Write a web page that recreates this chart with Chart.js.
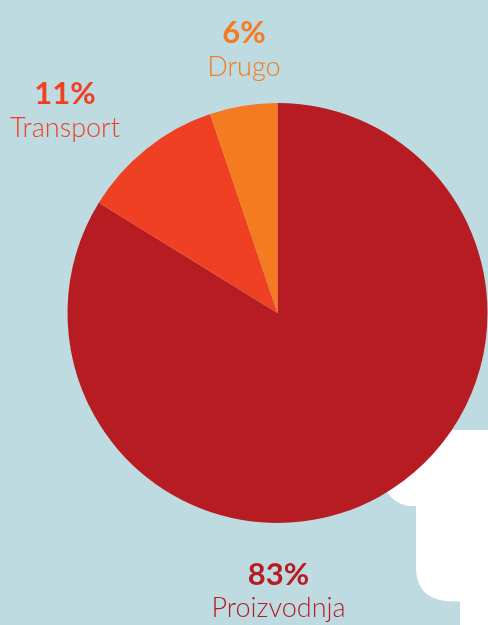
<!DOCTYPE html>
<html>
<head>
<meta charset="utf-8">
<script src="https://cdn.jsdelivr.net/npm/chart.js@4/dist/chart.umd.min.js"></script>
<style>
  html, body { margin: 0; padding: 0; background: #bddbe0; overflow: hidden; }
  #wrap { position: relative; width: 488px; height: 625px; }
</style>
</head>
<body>
<div id="wrap"><canvas id="c" width="488" height="625"></canvas></div>
<script>
// Data
const categories = ['Proizvodnja', 'Transport', 'Drugo'];
const values = [83.8, 11.0, 5.2];
const percentLabels = ['83%', '11%', '6%'];
const colors = ['#b71c22', '#ef4023', '#f47b20'];

const BG = '#bddbe0';

// White decorative panel behind the pie (bottom-right)
const panelPlugin = {
  id: 'panel',
  beforeDraw(chart) {
    const ctx = chart.ctx;
    ctx.save();
    ctx.fillStyle = BG;
    ctx.fillRect(0, 0, chart.width, chart.height);
    ctx.fillStyle = '#ffffff';
    ctx.beginPath();
    ctx.moveTo(340, 430);
    ctx.lineTo(488, 430);
    ctx.lineTo(488, 625);
    ctx.lineTo(460, 625);
    ctx.lineTo(460, 601.5);
    ctx.lineTo(455, 601.5);
    ctx.bezierCurveTo(428, 601.5, 416, 590, 416, 566);
    ctx.lineTo(416, 506);
    ctx.lineTo(412, 506);
    ctx.arc(412, 477, 29, Math.PI / 2, Math.PI, false);
    ctx.lineTo(383, 430);
    ctx.closePath();
    ctx.fill();
    ctx.restore();
  }
};

// Text labels
const labelPlugin = {
  id: 'sliceLabels',
  afterDraw(chart) {
    const ctx = chart.ctx;
    const spots = [
      { x: 278.5, pctY: 585, nameY: 617 },
      { x: 65, pctY: 104, nameY: 136.5 },
      { x: 244, pctY: 43, nameY: 76 }
    ];
    ctx.save();
    ctx.textAlign = 'center';
    ctx.textBaseline = 'alphabetic';
    categories.forEach((name, i) => {
      const s = spots[i];
      ctx.fillStyle = colors[i];
      ctx.font = '700 31px Lato';
      ctx.fillText(percentLabels[i], s.x, s.pctY);
      ctx.font = '300 27px Lato';
      ctx.fillText(name, s.x, s.nameY);
    });
    ctx.restore();
  }
};

new Chart(document.getElementById('c'), {
  type: 'pie',
  data: {
    labels: categories,
    datasets: [{
      data: values,
      backgroundColor: colors,
      borderWidth: 0,
      hoverOffset: 0
    }]
  },
  options: {
    responsive: false,
    animation: false,
    rotation: 0,
    layout: { padding: { left: 67.5, right: 0.5, top: 103, bottom: 102 } },
    plugins: {
      legend: { display: false },
      tooltip: { enabled: false }
    }
  },
  plugins: [panelPlugin, labelPlugin]
});
</script>
</body>
</html>
